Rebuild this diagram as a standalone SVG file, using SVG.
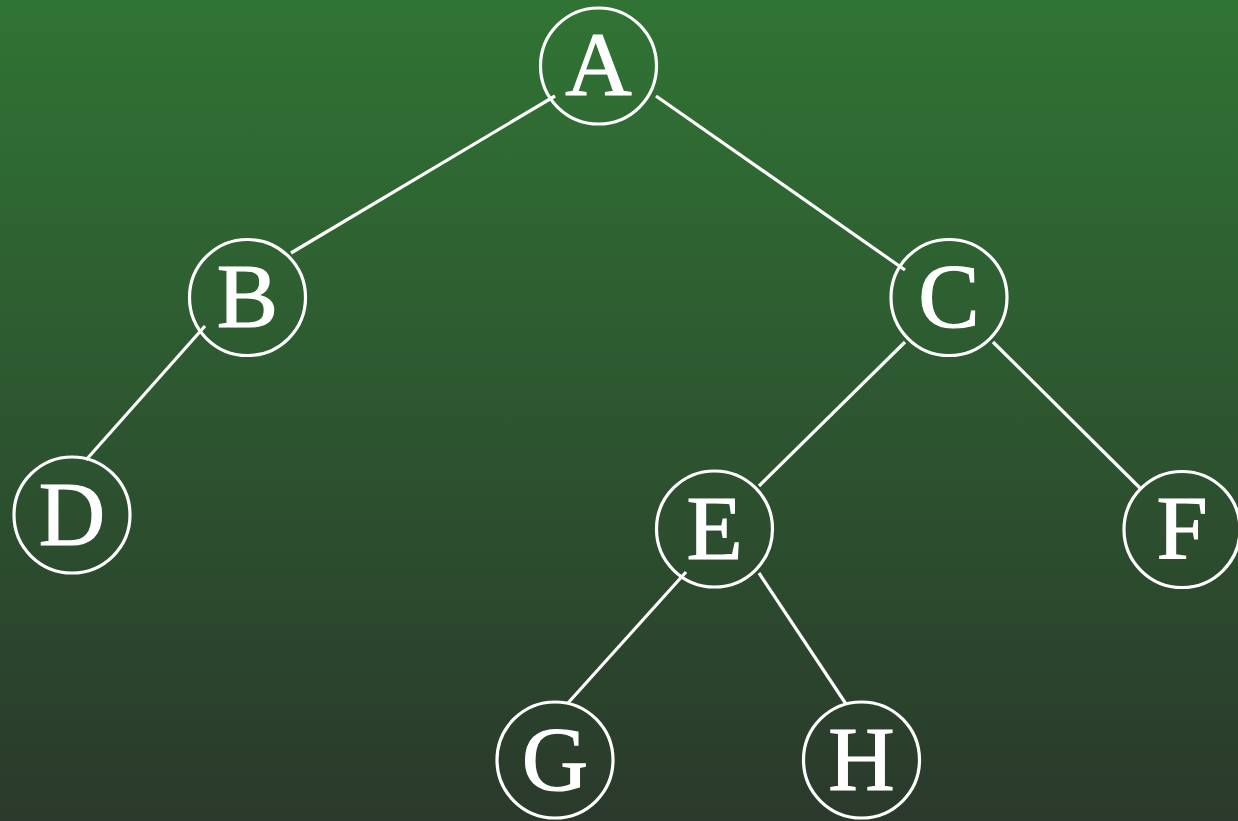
<svg xmlns="http://www.w3.org/2000/svg" width="1238" height="821" viewBox="0 0 1238 821">
<defs>
<linearGradient id="bg" x1="0" y1="0" x2="0" y2="1">
<stop offset="0" stop-color="#307434"/>
<stop offset="1" stop-color="#2a392b"/>
</linearGradient>
</defs>
<style>
.n circle{fill:none;stroke:#ffffff;stroke-width:3.2}
.n text{fill:#ffffff;stroke:#ffffff;stroke-width:1.2;font-family:"Liberation Serif","DejaVu Serif",serif;font-size:92px;text-anchor:middle}
#edges line{stroke:#ffffff;stroke-width:3.2}
</style>
<rect x="0" y="0" width="1238" height="821" fill="url(#bg)"/>
<g id="edges">
<line x1="555" y1="96" x2="291" y2="253"/>
<line x1="656" y1="96" x2="905" y2="270"/>
<line x1="205" y1="326" x2="86" y2="460"/>
<line x1="905" y1="342" x2="759" y2="486"/>
<line x1="993" y1="342" x2="1140" y2="488"/>
<line x1="686" y1="572" x2="568" y2="703"/>
<line x1="759" y1="573" x2="846" y2="704"/>
</g>
<g id="A" class="n"><circle cx="598.5" cy="66" r="58"/><text x="598.5" y="95">A</text></g>
<g id="B" class="n"><circle cx="247.5" cy="297.5" r="58"/><text x="247.5" y="327">B</text></g>
<g id="C" class="n"><circle cx="949" cy="297.5" r="58"/><text x="949" y="327">C</text></g>
<g id="D" class="n"><circle cx="72" cy="515" r="58"/><text x="72" y="545">D</text></g>
<g id="E" class="n"><circle cx="714.5" cy="529" r="58"/><text x="714.5" y="559">E</text></g>
<g id="F" class="n"><circle cx="1182" cy="529.5" r="58"/><text x="1182" y="559">F</text></g>
<g id="G" class="n"><circle cx="555" cy="760" r="58"/><text x="555" y="790">G</text></g>
<g id="H" class="n"><circle cx="861.5" cy="760" r="58"/><text x="861.5" y="790">H</text></g>
</svg>
